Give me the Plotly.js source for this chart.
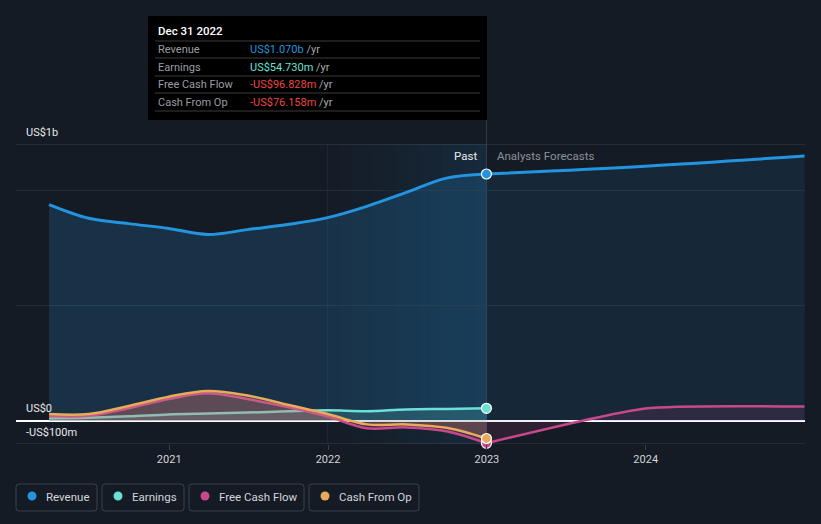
<!DOCTYPE html>
<html>
<head>
<meta charset="utf-8">
<script src="https://cdn.plot.ly/plotly-3.0.1.min.js"></script>
<style>
  html, body { margin: 0; padding: 0; background: #151b24; }
  #chart { width: 821px; height: 524px; }
</style>
</head>
<body>
<div id="chart"></div>
<script>
// ---- data (values in US$ billions) ----
const pastDates = ['2020-03-31','2020-06-30','2020-09-30','2020-12-31','2021-03-31','2021-06-30','2021-09-30','2021-12-31','2022-03-31','2022-06-30','2022-09-30','2022-12-31'];
const revenuePast  = [0.937, 0.878, 0.855, 0.834, 0.808, 0.829, 0.851, 0.881, 0.930, 0.990, 1.052, 1.070];
const earningsPast = [0.011, 0.014, 0.020, 0.028, 0.032, 0.036, 0.042, 0.046, 0.042, 0.050, 0.052, 0.05473];
const fcfPast      = [0.022, 0.022, 0.055, 0.095, 0.120, 0.095, 0.060, 0.019, -0.032, -0.028, -0.045, -0.096828];
const cfoPast      = [0.030, 0.030, 0.065, 0.105, 0.130, 0.110, 0.070, 0.030, -0.015, -0.015, -0.030, -0.076158];
const forecastDates   = ['2022-12-31','2023-12-31','2024-12-31'];
const revenueForecast = [1.070, 1.104, 1.148];
const fcfForecast     = [-0.096828, 0.054, 0.062];
const yearTicks  = ['2021-01-01','2022-01-01','2023-01-01','2024-01-01'];
const yearLabels = ['2021','2022','2023','2024'];
const seriesNames = ['Revenue','Earnings','Free Cash Flow','Cash From Op'];
const yLabels = [{v: 1.2, t: 'US$1b'}, {v: 0, t: 'US$0'}, {v: -0.1, t: '-US$100m'}];

// ---- styling ----
const C = { rev: '#2394df', earn: '#6ce0d4', fcf: '#c8488c', cfo: '#e8ab5c', neg: '#ef4444' };
const W = 821, H = 524, ML = 16, MR = 16, MT = 144, MB = 80;
const PW = W - ML - MR, PH = H - MT - MB;
const px = x => (x - ML) / PW;
const py = y => (H - MB - y) / PH;
const last = a => a[a.length - 1];

const traces = [];
traces.push({ x: pastDates, y: revenuePast, type: 'scatter', mode: 'lines', line: {color: C.rev, width: 3, shape: 'spline'}, fill: 'tozeroy', fillcolor: 'rgba(35,148,223,0.19)', hoverinfo: 'skip' });
traces.push({ x: forecastDates, y: revenueForecast, type: 'scatter', mode: 'lines', line: {color: C.rev, width: 3, shape: 'spline'}, fill: 'tozeroy', fillcolor: 'rgba(35,148,223,0.10)', hoverinfo: 'skip' });
traces.push({ x: pastDates, y: earningsPast, type: 'scatter', mode: 'lines', line: {color: C.earn, width: 2.5, shape: 'spline'}, fill: 'tozeroy', fillcolor: 'rgba(108,224,212,0.18)', hoverinfo: 'skip' });
traces.push({ x: pastDates, y: fcfPast, type: 'scatter', mode: 'lines', line: {color: C.fcf, width: 2.5, shape: 'spline'}, fill: 'tozeroy', fillcolor: 'rgba(200,72,140,0.22)', hoverinfo: 'skip' });
traces.push({ x: forecastDates, y: fcfForecast, type: 'scatter', mode: 'lines', line: {color: C.fcf, width: 2.5, shape: 'spline', smoothing: 0.55}, fill: 'tozeroy', fillcolor: 'rgba(200,72,140,0.13)', hoverinfo: 'skip' });
traces.push({ x: pastDates, y: cfoPast, type: 'scatter', mode: 'lines', line: {color: C.cfo, width: 2.5, shape: 'spline'}, fill: 'tozeroy', fillcolor: 'rgba(232,171,92,0.18)', hoverinfo: 'skip' });
// end markers
[[revenuePast, C.rev], [earningsPast, C.earn], [fcfPast, C.fcf], [cfoPast, C.cfo]].forEach(([arr, col]) => {
  traces.push({ x: [last(pastDates)], y: [last(arr)], type: 'scatter', mode: 'markers', marker: {color: col, size: 10, line: {color: '#ffffff', width: 1.2}}, hoverinfo: 'skip', cliponaxis: false });
});

const shapes = [];
// highlighted last-year band (horizontal gradient made from slices)
const N = 14;
const t0 = new Date('2021-12-31').getTime(), t1 = new Date('2022-12-31').getTime();
for (let i = 0; i < N; i++) {
  shapes.push({ type: 'rect', xref: 'x', yref: 'y', layer: 'below', line: {width: 0},
    x0: new Date(t0 + (t1 - t0) * i / N).toISOString(), x1: new Date(t0 + (t1 - t0) * (i + 1) / N).toISOString(),
    y0: -0.1, y1: 1.2, fillcolor: `rgba(35,148,223,${(0.015 + 0.11 * i / (N - 1)).toFixed(3)})` });
}
shapes.push({ type: 'line', xref: 'x', yref: 'y', x0: '2021-12-31', x1: '2021-12-31', y0: -0.1, y1: 1.2, line: {color: 'rgba(50,100,145,0.22)', width: 1}, layer: 'below' });
// top/bottom rules
shapes.push({ type: 'line', xref: 'paper', yref: 'y', x0: 0, x1: 1, y0: 1.2, y1: 1.2, line: {color: '#3a4049', width: 1}, layer: 'below' });
shapes.push({ type: 'line', xref: 'paper', yref: 'y', x0: 0, x1: 1, y0: -0.1, y1: -0.1, line: {color: '#3a4049', width: 1}, layer: 'below' });
// "now" line
shapes.push({ type: 'line', xref: 'x', yref: 'paper', x0: last(pastDates), x1: last(pastDates), y0: 0, y1: py(120), line: {color: '#333c48', width: 1}, layer: 'below' });
// tooltip box
shapes.push({ type: 'rect', xref: 'paper', yref: 'paper', x0: px(148), x1: px(487), y0: py(120), y1: py(16), fillcolor: '#000000', line: {width: 0} });
[41, 58, 76, 93, 111].forEach(y => shapes.push({ type: 'line', xref: 'paper', yref: 'paper', x0: px(155), x1: px(480), y0: py(y), y1: py(y), line: {color: '#3a3a3a', width: 1} }));

// legend boxes
const legendBoxes = [[16, 97], [102, 184], [189, 304], [309, 419]];
const legendDots = [32, 118, 205, 325];
const legendCols = [C.rev, C.earn, C.fcf, C.cfo];
function roundRect(x0, y0, x1, y1, r) {
  const X = v => px(v), Y = v => py(v);
  return `M${X(x0 + r)},${Y(y0)} L${X(x1 - r)},${Y(y0)} Q${X(x1)},${Y(y0)} ${X(x1)},${Y(y0 + r)} L${X(x1)},${Y(y1 - r)} Q${X(x1)},${Y(y1)} ${X(x1 - r)},${Y(y1)} L${X(x0 + r)},${Y(y1)} Q${X(x0)},${Y(y1)} ${X(x0)},${Y(y1 - r)} L${X(x0)},${Y(y0 + r)} Q${X(x0)},${Y(y0)} ${X(x0 + r)},${Y(y0)} Z`;
}
legendBoxes.forEach(([a, b]) => shapes.push({ type: 'path', xref: 'paper', yref: 'paper', path: roundRect(a, 484, b, 511, 3), line: {color: '#3b414b', width: 1}, fillcolor: 'rgba(0,0,0,0)' }));
legendDots.forEach((x, i) => shapes.push({ type: 'circle', xref: 'paper', yref: 'paper', x0: px(x - 4.5), x1: px(x + 4.5), y0: py(496 + 4.5), y1: py(496 - 4.5), fillcolor: legendCols[i], line: {width: 0} }));

const FONT = 'Roboto, "Open Sans", sans-serif';
const ann = [];
const A = (x, y, text, color, size, anchor, weight) => ann.push({ xref: 'paper', yref: 'paper', x: px(x), y: py(y), text, showarrow: false, xanchor: anchor || 'left', yanchor: 'middle', font: {family: FONT, size: size || 11, color, weight: weight || 400} });

// y labels
yLabels.forEach(l => {
  const yPix = (H - MB) - (l.v + 0.1) / 1.3 * PH - 12;
  A(24, yPix, l.t, '#e6e8eb', 11);
});
A(479, 156, 'Past', '#e9ebee', 11.5, 'right');
A(495, 156, 'Analysts Forecasts', '#8b9199', 11.5, 'left');

// tooltip texts
const fmtB = v => (v < 0 ? '-' : '') + 'US$' + Math.abs(v).toFixed(3) + 'b';
const fmtM = v => (v < 0 ? '-' : '') + 'US$' + (Math.abs(v) * 1000).toFixed(3) + 'm';
A(156, 31, 'Dec 31 2022', '#ffffff', 11.5, 'left', 500);
const rows = [
  [seriesNames[0], fmtB(last(revenuePast)), C.rev],
  [seriesNames[1], fmtM(last(earningsPast)), C.earn],
  [seriesNames[2], fmtM(last(fcfPast)), C.neg],
  [seriesNames[3], fmtM(last(cfoPast)), C.neg]
];
const rowY = [49, 67, 84, 102];
rows.forEach((r, i) => {
  A(156, rowY[i], r[0], '#9a9da2', 11);
  A(248, rowY[i], `<span style="color:${r[2]}">${r[1]}</span> /yr`, '#a8abb0', 11);
});
// legend labels
const legendTextX = [44, 130, 217, 337];
seriesNames.forEach((n, i) => A(legendTextX[i], 497, n, '#d2d5da', 11.5));

const layout = {
  width: W, height: H,
  margin: {l: ML, r: MR, t: MT, b: MB},
  paper_bgcolor: '#151b24', plot_bgcolor: '#151b24',
  showlegend: false,
  font: {family: FONT, color: '#d0d3d8'},
  xaxis: {
    type: 'date', range: ['2020-01-15', '2025-01-01'],
    tickvals: yearTicks, ticktext: yearLabels,
    ticks: 'outside', ticklen: 5, tickcolor: '#3a4049',
    tickfont: {family: FONT, size: 11, color: '#d0d3d8'},
    showgrid: false, zeroline: false, showline: false, fixedrange: true
  },
  yaxis: {
    range: [-0.1, 1.2], tickvals: [0.5, 1.0], showticklabels: false,
    showgrid: true, gridcolor: '#252c36', gridwidth: 1,
    zeroline: true, zerolinecolor: '#ffffff', zerolinewidth: 1.5,
    showline: false, fixedrange: true
  },
  shapes, annotations: ann,
  hovermode: false
};

Plotly.newPlot('chart', traces, layout, {staticPlot: true, displayModeBar: false});
</script>
</body>
</html>
